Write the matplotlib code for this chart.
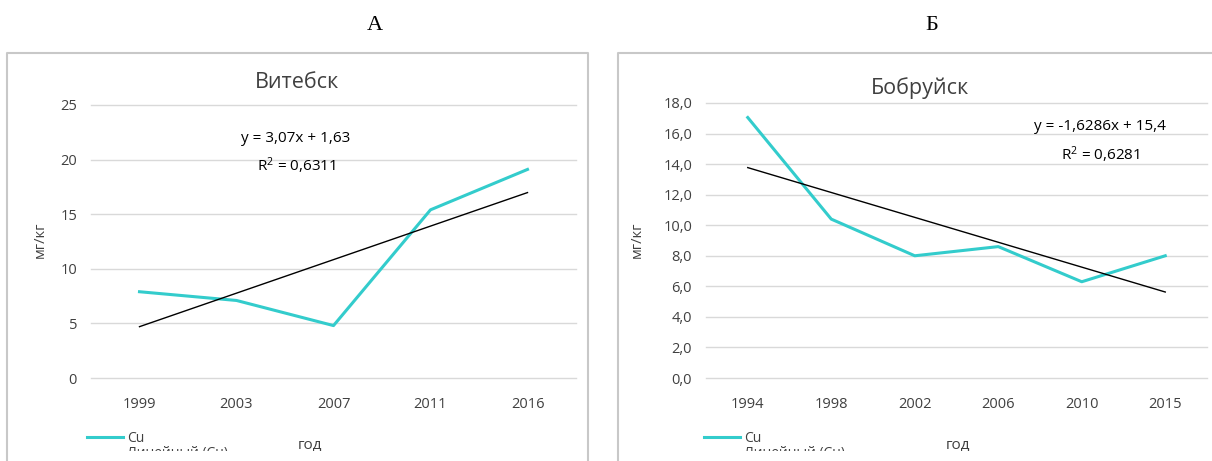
import matplotlib.pyplot as plt
from matplotlib.lines import Line2D
from matplotlib.patches import Rectangle
import numpy as np

plt.rcParams['font.family'] = ['Open Sans', 'DejaVu Sans']

# Витебск
vit_years = ['1999', '2003', '2007', '2011', '2016']
vit_cu = [7.9, 7.1, 4.8, 15.4, 19.1]
vit_slope, vit_icpt, vit_r2 = 3.07, 1.63, 0.6311

# Бобруйск
bob_years = ['1994', '1998', '2002', '2006', '2010', '2015']
bob_cu = [17.05, 10.4, 8.0, 8.6, 6.3, 8.0]
bob_slope, bob_icpt, bob_r2 = -1.6286, 15.4, 0.6281

W, H = 1212, 461
fig = plt.figure(figsize=(W / 100, H / 100), dpi=100)

TEAL = '#33CCCC'
GRID = '#D9D9D9'
TXT = '#404040'


def px(x, y, w, h):
    return [x / W, 1 - (y + h) / H, w / W, h / H]


def panel(rect, years, cu, slope, icpt, r2, ymax, ystep, fmt, title, eq, eq_xy,
          title_xy, ylab_x, xlab_xy, leg_xy):
    ax = fig.add_axes(px(*rect))
    x = np.arange(1, len(years) + 1)
    ax.plot(x, cu, color=TEAL, lw=2.2, label='Cu', zorder=3)
    ax.plot(x, slope * x + icpt, color='black', lw=1.0, label='Линейный (Cu)', zorder=4)
    ax.set_xlim(0.5, len(years) + 0.5)
    ax.set_ylim(0, ymax)
    ticks = np.arange(0, ymax + 0.01, ystep)
    ax.set_yticks(ticks)
    ax.set_yticklabels([fmt(t) for t in ticks])
    ax.set_xticks(x)
    ax.set_xticklabels(years)
    ax.grid(axis='y', color=GRID, lw=1)
    for gl in ax.get_ygridlines():
        gl.set_clip_on(False)
    ax.set_axisbelow(True)
    for s in ax.spines.values():
        s.set_visible(False)
    ax.tick_params(length=0, colors=TXT, labelsize=10.5, pad=10)
    ax.tick_params(axis='x', pad=14)
    ax.text(eq_xy[0], eq_xy[1], eq, transform=fig.transFigure, ha='center', va='center',
            fontsize=11, color='black')
    ax.text(eq_xy[0], eq_xy[1] - 28 / H, '$\\mathregular{R^2}$ = ' + f'{r2}'.replace('.', ','),
            transform=fig.transFigure, ha='center', va='center', fontsize=11, color='black')
    fig.text(title_xy[0] / W, 1 - title_xy[1] / H, title, ha='center', va='center',
             fontsize=15.5, color=TXT)
    fig.text(ylab_x / W, 1 - 240 / H, 'мг/кг', rotation=90, ha='center', va='center',
             fontsize=10.5, color=TXT)
    fig.text(xlab_xy[0] / W, 1 - xlab_xy[1] / H, 'год', ha='center', va='center',
             fontsize=11, color=TXT)
    ax.legend(loc='upper left', bbox_to_anchor=(leg_xy[0] / W, 1 - leg_xy[1] / H),
              bbox_transform=fig.transFigure, frameon=False, fontsize=10,
              handlelength=2.6, labelspacing=0.0, handletextpad=0.3,
              labelcolor=TXT, borderpad=0)
    return ax


panel((91, 105, 485, 273), vit_years, vit_cu, vit_slope, vit_icpt, vit_r2, 25, 5,
      lambda t: f'{t:.0f}', 'Витебск', 'y = 3,07x + 1,63', (296 / W, 1 - 138 / H),
      (297, 83), 40, (310, 445), (80, 424))
panel((706, 103, 501, 275), bob_years, bob_cu, bob_slope, bob_icpt, bob_r2, 18, 2,
      lambda t: f'{t:.1f}'.replace('.', ','), 'Бобруйск', 'y = -1,6286x + 15,4',
      (1100 / W, 1 - 127 / H), (920, 88), 637, (958, 445), (697, 424))

# panel captions
fig.text(375 / W, 1 - 25 / H, 'А', ha='center', va='center', fontsize=16,
         family='Liberation Serif')
fig.text(932 / W, 1 - 25 / H, 'Б', ha='center', va='center', fontsize=16,
         family='Liberation Serif')

# chart frames are cut off at the bottom
fig.add_artist(Rectangle((0, 0), 1, 10 / H, transform=fig.transFigure,
                         facecolor='white', edgecolor='none', zorder=5))
frame = dict(color='#C8C8C8', lw=1.5, zorder=6, transform=fig.transFigure)
for xs, ys in [((7, 7, 588, 588), (461, 53, 53, 461)),
               ((618, 618, 1212), (461, 53, 53))]:
    fig.add_artist(Line2D([v / W for v in xs], [1 - v / H for v in ys], **frame))

fig.savefig('out.png', dpi=100)
